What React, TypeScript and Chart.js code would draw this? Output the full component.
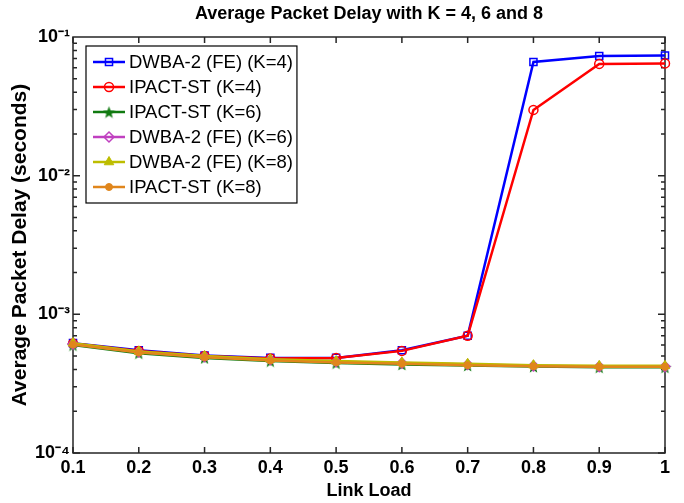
import React, { useEffect, useRef } from "react";
import { Chart, registerables } from "chart.js";

Chart.register(...registerables);

const titleText = "Average Packet Delay with K = 4, 6 and 8";
const xTitle = "Link Load";
const yTitle = "Average Packet Delay (seconds)";

const linkLoad = [0.1, 0.2, 0.3, 0.4, 0.5, 0.6, 0.7, 0.8, 0.9, 1.0];
const xTickLabels = ["0.1", "0.2", "0.3", "0.4", "0.5", "0.6", "0.7", "0.8", "0.9", "1"];

const dwbaK4 = [6.2e-4, 5.5e-4, 5.05e-4, 4.85e-4, 4.85e-4, 5.5e-4, 7.0e-4, 0.066, 0.073, 0.0735];
const ipactK4 = [6.15e-4, 5.45e-4, 5.0e-4, 4.8e-4, 4.85e-4, 5.45e-4, 7.0e-4, 0.0298, 0.064, 0.0645];
const ipactK6 = [6.0e-4, 5.25e-4, 4.85e-4, 4.6e-4, 4.45e-4, 4.35e-4, 4.28e-4, 4.2e-4, 4.15e-4, 4.15e-4];
const dwbaK6 = [6.1e-4, 5.35e-4, 4.95e-4, 4.7e-4, 4.55e-4, 4.45e-4, 4.35e-4, 4.25e-4, 4.2e-4, 4.2e-4];
const dwbaK8 = [6.2e-4, 5.4e-4, 5.0e-4, 4.75e-4, 4.6e-4, 4.5e-4, 4.4e-4, 4.3e-4, 4.25e-4, 4.25e-4];
const ipactK8 = [6.05e-4, 5.3e-4, 4.9e-4, 4.65e-4, 4.5e-4, 4.4e-4, 4.3e-4, 4.22e-4, 4.18e-4, 4.18e-4];

const seriesLabels = [
  "DWBA-2 (FE) (K=4)",
  "IPACT-ST (K=4)",
  "IPACT-ST (K=6)",
  "DWBA-2 (FE) (K=6)",
  "DWBA-2 (FE) (K=8)",
  "IPACT-ST (K=8)",
];
const seriesValues = [dwbaK4, ipactK4, ipactK6, dwbaK6, dwbaK8, ipactK8];

const yDecades = [1e-4, 1e-3, 1e-2];
const yMantissas = [1, 2, 3, 4, 5, 6, 7, 8, 9];
const yMajorValues = [1e-4, 1e-3, 1e-2, 1e-1];
const yMajorLabels = ["10⁻⁴", "10⁻³", "10⁻²", "10⁻¹"];

const FONT = "'Liberation Sans', Arial, Helvetica, sans-serif";

function makeStar(color: string, size: number) {
  const c = document.createElement("canvas");
  c.width = size;
  c.height = size;
  const g = c.getContext("2d")!;
  const cx = size / 2, cy = size / 2 + 0.8;
  const R = size / 2, r = R * 0.42;
  g.beginPath();
  for (let i = 0; i < 10; i++) {
    const ang = -Math.PI / 2 + (i * Math.PI) / 5;
    const rad = i % 2 === 0 ? R : r;
    const px = cx + rad * Math.cos(ang);
    const py = cy + rad * Math.sin(ang);
    if (i === 0) g.moveTo(px, py);
    else g.lineTo(px, py);
  }
  g.closePath();
  g.fillStyle = color;
  g.fill();
  return c;
}

function drawMarker(ctx: CanvasRenderingContext2D, style: any, r: number, x: number, y: number, fill: string, stroke: string, bw: number) {
  ctx.save();
  ctx.fillStyle = fill;
  ctx.strokeStyle = stroke;
  ctx.lineWidth = bw;
  if (typeof style !== "string") {
    ctx.drawImage(style, x - style.width / 2, y - style.height / 2);
    ctx.restore();
    return;
  }
  ctx.beginPath();
  if (style === "rect") {
    const s = Math.SQRT1_2 * r;
    ctx.rect(x - s, y - s, 2 * s, 2 * s);
  } else if (style === "circle") {
    ctx.arc(x, y, r, 0, Math.PI * 2);
  } else if (style === "rectRot") {
    ctx.moveTo(x, y - r);
    ctx.lineTo(x + r, y);
    ctx.lineTo(x, y + r);
    ctx.lineTo(x - r, y);
    ctx.closePath();
  } else if (style === "triangle") {
    ctx.moveTo(x, y - r);
    ctx.lineTo(x + Math.cos(Math.PI / 6) * r, y + Math.sin(Math.PI / 6) * r);
    ctx.lineTo(x - Math.cos(Math.PI / 6) * r, y + Math.sin(Math.PI / 6) * r);
    ctx.closePath();
  }
  ctx.fill();
  ctx.stroke();
  ctx.restore();
}

export default function App() {
  const ref = useRef<HTMLCanvasElement | null>(null);

  useEffect(() => {
    if (!ref.current) return;
    const star = makeStar("#107a10", 13);
    const styles = [
      { color: "#0000ff", pointStyle: "rect", radius: 5, fill: "rgba(0,0,0,0)", bw: 1.5 },
      { color: "#ff0000", pointStyle: "circle", radius: 4.5, fill: "rgba(0,0,0,0)", bw: 1.5 },
      { color: "#107a10", pointStyle: star, radius: 6, fill: "#107a10", bw: 1 },
      { color: "#c040c0", pointStyle: "rectRot", radius: 5, fill: "rgba(0,0,0,0)", bw: 1.5 },
      { color: "#bdbd00", pointStyle: "triangle", radius: 5.5, fill: "#bdbd00", bw: 1 },
      { color: "#e0861c", pointStyle: "circle", radius: 3.5, fill: "#e0861c", bw: 1 },
    ];

    const datasets = seriesValues.map((vals, i) => ({
      label: seriesLabels[i],
      data: linkLoad.map((x, j) => ({ x, y: vals[j] })),
      borderColor: styles[i].color,
      backgroundColor: styles[i].fill,
      borderWidth: 2.5,
      pointStyle: styles[i].pointStyle as any,
      pointRadius: styles[i].radius,
      pointBorderWidth: styles[i].bw,
      pointBorderColor: styles[i].color,
      pointBackgroundColor: styles[i].fill,
      tension: 0,
      clip: false as any,
      order: seriesValues.length - i,
    }));

    const framePlugin = {
      id: "frame",
      beforeDatasetsDraw(chart: any) {
        const { ctx, chartArea } = chart;
        const { left, right, top, bottom } = chartArea;
        const xs = chart.scales.x;
        const ys = chart.scales.y;
        ctx.save();
        ctx.strokeStyle = "#262626";
        ctx.lineWidth = 1.5;
        ctx.strokeRect(left, top, right - left, bottom - top);
        ctx.beginPath();
        for (const v of linkLoad) {
          const px = xs.getPixelForValue(v);
          ctx.moveTo(px, bottom);
          ctx.lineTo(px, bottom - 6);
          ctx.moveTo(px, top);
          ctx.lineTo(px, top + 6);
        }
        for (const d of yDecades) {
          for (const m of yMantissas) {
            const v = d * m;
            const py = ys.getPixelForValue(v);
            const len = m === 1 ? 7 : 4;
            ctx.moveTo(left, py);
            ctx.lineTo(left + len, py);
            ctx.moveTo(right, py);
            ctx.lineTo(right - len, py);
          }
        }
        ctx.stroke();
        ctx.restore();
      },
    };

    const legendPlugin = {
      id: "boxLegend",
      afterDraw(chart: any) {
        const { ctx, chartArea } = chart;
        const boxL = chartArea.left + 13;
        const boxT = chartArea.top + 9;
        const rowH = 25;
        const padTop = 16;
        const fontStr = `18.5px ${FONT}`;
        ctx.save();
        ctx.font = fontStr;
        let maxW = 0;
        for (const s of seriesLabels) maxW = Math.max(maxW, ctx.measureText(s).width);
        const textX = boxL + 43;
        const boxW = textX - boxL + maxW + 4;
        const boxH = padTop * 2 + rowH * (seriesLabels.length - 1);
        ctx.fillStyle = "#ffffff";
        ctx.fillRect(boxL, boxT, boxW, boxH);
        ctx.strokeStyle = "#000000";
        ctx.lineWidth = 1.2;
        ctx.strokeRect(boxL, boxT, boxW, boxH);
        seriesLabels.forEach((lab, i) => {
          const cy = boxT + padTop + i * rowH;
          const st = styles[i];
          ctx.strokeStyle = st.color;
          ctx.lineWidth = 2.5;
          ctx.beginPath();
          ctx.moveTo(boxL + 7, cy);
          ctx.lineTo(boxL + 39, cy);
          ctx.stroke();
          drawMarker(ctx, st.pointStyle, st.radius, boxL + 23, cy, st.fill, st.color, st.bw);
          ctx.fillStyle = "#000000";
          ctx.font = fontStr;
          ctx.textBaseline = "middle";
          ctx.textAlign = "left";
          ctx.fillText(lab, textX, cy + 1);
        });
        ctx.restore();
      },
    };

    const chart = new Chart(ref.current, {
      type: "line",
      data: { datasets: datasets as any },
      plugins: [framePlugin, legendPlugin],
      options: {
        animation: false,
        responsive: true,
        maintainAspectRatio: false,
        layout: { padding: { left: 0, right: 19, top: 0, bottom: 0 } },
        plugins: {
          legend: { display: false },
          tooltip: { enabled: false },
          title: {
            display: true,
            text: titleText,
            fullSize: false,
            color: "#000000",
            font: { family: FONT, size: 18, weight: "bold" },
            padding: { top: 3, bottom: 12.4 },
          },
        },
        scales: {
          x: {
            type: "linear",
            min: 0.1,
            max: 1,
            afterBuildTicks: (s: any) => {
              s.ticks = linkLoad.map((v) => ({ value: v }));
            },
            afterFit: (s: any) => {
              s.height = 50;
            },
            ticks: {
              autoSkip: false,
              maxRotation: 0,
              padding: -4,
              color: "#000000",
              font: { family: FONT, size: 18, weight: "bold" },
              callback: (_v: any, i: number) => xTickLabels[i],
            },
            grid: { display: false },
            border: { display: false },
            title: {
              display: true,
              text: xTitle,
              color: "#000000",
              font: { family: FONT, size: 18, weight: "bold" },
              padding: { top: 0, bottom: 1 },
            },
          },
          y: {
            type: "logarithmic",
            min: 1e-4,
            max: 1e-1,
            afterBuildTicks: (s: any) => {
              s.ticks = yMajorValues.map((v) => ({ value: v, major: true }));
            },
            afterFit: (s: any) => {
              s.width = 73;
            },
            ticks: {
              autoSkip: false,
              padding: -5,
              color: "#000000",
              font: { family: FONT, size: 18, weight: "bold" },
              callback: (_v: any, i: number) => yMajorLabels[i],
            },
            grid: { display: false },
            border: { display: false },
            title: {
              display: true,
              text: yTitle,
              color: "#000000",
              font: { family: FONT, size: 21, weight: "bold" },
              padding: { top: 8, bottom: 0 },
            },
          },
        },
      },
    });
    return () => chart.destroy();
  }, []);

  return (
    <div style={{ position: "fixed", left: 0, top: 0, width: 684, height: 503, background: "#ffffff" }}>
      <canvas ref={ref} />
    </div>
  );
}
